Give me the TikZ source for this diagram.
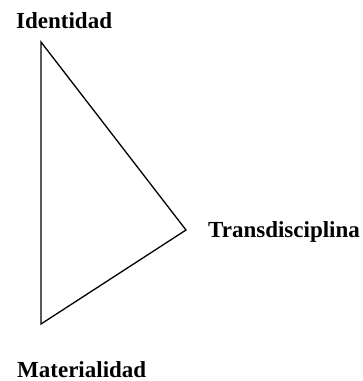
\documentclass[tikz,border=0pt]{standalone}
\usepackage{fontspec}
\setmainfont{Liberation Serif}
\begin{document}
\begin{tikzpicture}[x=1pt,y=-1pt,
  lbl/.style={anchor=base west,inner sep=0pt,font=\fontsize{23}{27}\selectfont\bfseries},
  edge/.style={draw=black,line width=1.3pt,line join=miter}]
\useasboundingbox (0,0) rectangle (363,381);
\coordinate (top) at (41,42);
\coordinate (right) at (186,230);
\coordinate (bottom) at (41,324);
\draw[edge] (top) -- (right) -- (bottom) -- cycle;
\node[lbl] (ident) at (16,28) {Identidad};
\node[lbl] (trans) at (208,237) {Transdisciplina};
\node[lbl] (mater) at (17,377) {Materialidad};
\end{tikzpicture}
\end{document}
